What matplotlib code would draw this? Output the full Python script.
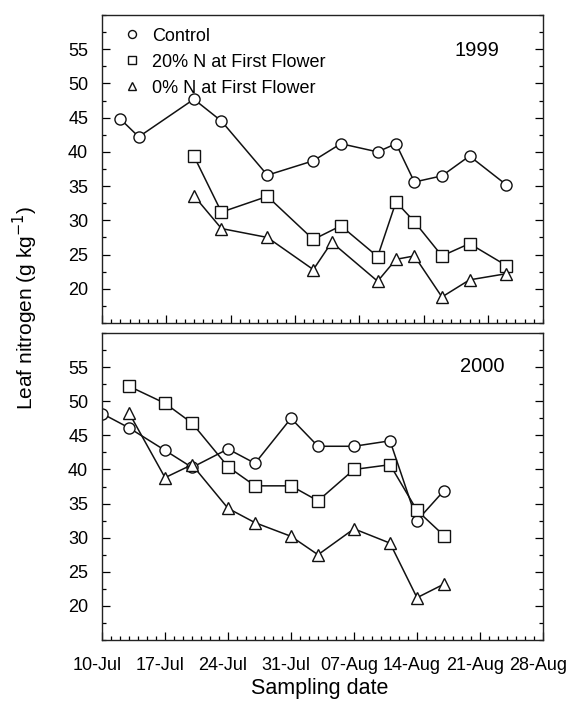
import matplotlib
matplotlib.use('Agg')
import matplotlib.pyplot as plt
import matplotlib.transforms as mtransforms
from matplotlib.ticker import MultipleLocator, FixedLocator

plt.rcParams['font.family'] = ['Liberation Sans', 'DejaVu Sans']

# x values are days after 10-Jul
# 1999 season
days_ctrl_99 = [2, 4, 10, 13, 18, 23, 26, 30, 32, 34, 37, 40, 44]
ctrl_99 = [44.8, 42.2, 47.7, 44.5, 36.6, 38.7, 41.2, 40.0, 41.2, 35.6, 36.5, 39.4, 35.2]
days_n20_99 = [10, 13, 18, 23, 26, 30, 32, 34, 37, 40, 44]
n20_99 = [39.4, 31.2, 33.5, 27.2, 29.2, 24.7, 32.7, 29.8, 24.8, 26.6, 23.4]
days_n0_99 = [10, 13, 18, 23, 25, 30, 32, 34, 37, 40, 44]
n0_99 = [33.6, 28.8, 27.5, 22.8, 26.8, 21.1, 24.3, 24.8, 18.8, 21.3, 22.2]

# 2000 season
days_ctrl_00 = [0, 3, 7, 10, 14, 17, 21, 24, 28, 32, 35, 38]
ctrl_00 = [48.2, 46.1, 42.8, 40.3, 43.0, 40.9, 47.5, 43.4, 43.4, 44.2, 32.5, 36.9]
days_trt_00 = [3, 7, 10, 14, 17, 21, 24, 28, 32, 35, 38]
n20_00 = [52.2, 49.7, 46.8, 40.4, 37.6, 37.6, 35.4, 40.0, 40.7, 34.0, 30.3]
n0_00 = [48.3, 38.8, 40.7, 34.3, 32.2, 30.2, 27.5, 31.3, 29.2, 21.2, 23.2]

tick_days = [0, 7, 14, 21, 28, 35, 42, 49]
tick_labels = ['10-Jul', '17-Jul', '24-Jul', '31-Jul', '07-Aug', '14-Aug', '21-Aug', '28-Aug']
legend_names = ['Control', '20% N at First Flower', '0% N at First Flower']

fig = plt.figure(figsize=(5.69, 7.02), dpi=100)
ax1 = fig.add_axes([0.1793, 0.5399, 0.7750, 0.4387])
ax2 = fig.add_axes([0.1793, 0.0883, 0.7750, 0.4373])

style = dict(color='#111111', linewidth=1.1, markersize=8,
             markerfacecolor='white', markeredgecolor='#111111', markeredgewidth=1.0)


def draw_panel(ax, series, year, yr_pos, xmax):
    lines = []
    for (x, y, m) in series:
        ln, = ax.plot(x, y, marker=m, **style)
        lines.append(ln)
    ax.set_xlim(0, xmax)
    ax.set_ylim(15, 60)
    ax.set_yticks([20, 25, 30, 35, 40, 45, 50, 55])
    ax.yaxis.set_minor_locator(MultipleLocator(2.5))
    ax.xaxis.set_major_locator(FixedLocator(tick_days))
    ax.xaxis.set_minor_locator(MultipleLocator(1))
    ax.tick_params(which='both', direction='in', top=False, right=True,
                   width=0.9, labelsize=13)
    ax.tick_params(axis='y', pad=10)
    ax.tick_params(axis='x', pad=12)
    ax.tick_params(which='major', length=6)
    ax.tick_params(which='minor', length=3)
    for s in ax.spines.values():
        s.set_linewidth(1.0)
        s.set_color('#222222')
    ax.text(yr_pos[0], yr_pos[1], year, transform=ax.transAxes,
            ha='center', va='center', fontsize=14.5)
    return lines


# the 1999 panel runs to 27-Aug, the 2000 panel to 28-Aug
lines = draw_panel(ax1, [(days_ctrl_99, ctrl_99, 'o'),
                         (days_n20_99, n20_99, 's'),
                         (days_n0_99, n0_99, '^')], '1999', (0.85, 0.886), 48)
ax1.set_xticklabels([])

draw_panel(ax2, [(days_ctrl_00, ctrl_00, 'o'),
                 (days_trt_00, n20_00, 's'),
                 (days_trt_00, n0_00, '^')], '2000', (0.863, 0.89), 49)
ax2.set_xticklabels(tick_labels)
offset = mtransforms.ScaledTranslation(-5 / 100, 0, fig.dpi_scale_trans)
for lbl in ax2.get_xticklabels():
    lbl.set_transform(lbl.get_transform() + offset)

ax1.legend(lines, legend_names, loc='upper left', bbox_to_anchor=(0.04, 1.0),
           frameon=False, handlelength=0, handletextpad=1.1, markerscale=0.72,
           fontsize=13, labelspacing=0.5, borderaxespad=0.3)

fig.text(0.5615, 0.019, 'Sampling date', ha='center', va='center', fontsize=15.5)
fig.text(0.045, 0.562, 'Leaf nitrogen (g kg$^{-1}$)', rotation=90,
         ha='center', va='center', fontsize=15)

fig.savefig('out.png', dpi=100)
